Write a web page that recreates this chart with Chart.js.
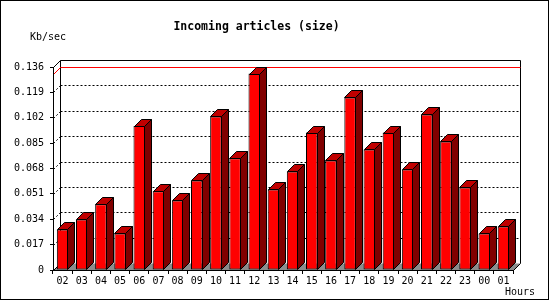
<!DOCTYPE html>
<html>
<head>
<meta charset="utf-8">
<script src="https://cdn.jsdelivr.net/npm/chart.js@4.4.1/dist/chart.umd.min.js"></script>
<style>
body { margin: 0; background: #fff; }
canvas { display: block; }
</style>
</head>
<body>
<canvas id="myChart" width="550" height="300"></canvas>
<script>
'use strict';

let hours = ['02', '03', '04', '05', '06', '07', '08', '09', '10', '11', '12', '13',
    '14', '15', '16', '17', '18', '19', '20', '21', '22', '23', '00', '01'];
let kbSec = [0.0272, 0.0339, 0.0440, 0.0245, 0.0964, 0.0527, 0.0466, 0.0600, 0.1029, 0.0748, 0.1316, 0.0540,
    0.0660, 0.0921, 0.0734, 0.1156, 0.0808, 0.0921, 0.0674, 0.1042, 0.0861, 0.0553, 0.0245, 0.0292];
let yTicks = [0, 0.017, 0.034, 0.051, 0.068, 0.085, 0.102, 0.119, 0.136];
let chartTitle = 'Incoming articles (size)';
let yUnit = 'Kb/sec';
let xUnit = 'Hours';

let mono = '"DejaVu Sans Mono", "Liberation Mono", monospace';
let depth = 7;

function line(ctx, x1, y1, x2, y2) {
    ctx.beginPath();
    ctx.moveTo(x1, y1);
    ctx.lineTo(x2, y2);
    ctx.stroke();
}

function poly(ctx, pts, fill) {
    ctx.beginPath();
    ctx.moveTo(pts[0][0], pts[0][1]);
    for (let i = 1; i < pts.length; i++) {
        ctx.lineTo(pts[i][0], pts[i][1]);
    }
    ctx.closePath();
    ctx.fillStyle = fill;
    ctx.fill();
    ctx.stroke();
}

let walls = {
    id: 'walls',
    beforeDraw(chart) {
        let ctx = chart.ctx;
        let a = chart.chartArea;
        let y = chart.scales.y;
        let l = a.left + 0.5, r = a.right + 0.5, t = a.top + 0.5, b = a.bottom + 0.5;
        ctx.save();
        ctx.fillStyle = '#fff';
        ctx.fillRect(0, 0, chart.width, chart.height);
        ctx.lineWidth = 1;
        ctx.strokeStyle = '#000';

        // floor
        ctx.beginPath();
        ctx.moveTo(l, b);
        ctx.lineTo(r, b);
        ctx.lineTo(r + depth, b - depth);
        ctx.lineTo(l + depth, b - depth);
        ctx.closePath();
        ctx.fillStyle = '#8c8c8c';
        ctx.fill();

        // dotted grid on back wall and left wall
        ctx.setLineDash([2, 2]);
        for (let i = 1; i < yTicks.length - 1; i++) {
            let yf = Math.round(y.getPixelForValue(yTicks[i])) + 0.5;
            line(ctx, l + depth, yf - depth, r + depth, yf - depth);
            line(ctx, l, yf, l + depth, yf - depth);
        }
        ctx.setLineDash([]);

        // back wall frame
        line(ctx, l + depth, t - depth, r + depth, t - depth);
        line(ctx, r + depth, t - depth, r + depth, b - depth);
        line(ctx, r + depth, b - depth, r, b);
        line(ctx, l + depth, t - depth, l + depth, b - depth);
        line(ctx, l, t, l + depth, t - depth);
        line(ctx, l, b, l + depth, b - depth);

        // max value line
        let top = Math.round(y.getPixelForValue(Math.max(...kbSec))) + 0.5;
        ctx.strokeStyle = '#ff0000';
        line(ctx, l, top, l + depth, top - depth);
        line(ctx, l + depth, top - depth, r + depth, top - depth);
        ctx.restore();
    },
    afterDatasetsDraw(chart) {
        let ctx = chart.ctx;
        let meta = chart.getDatasetMeta(0);
        ctx.save();
        ctx.lineWidth = 1;
        ctx.strokeStyle = '#000';
        meta.data.forEach(function (bar) {
            let p = bar.getProps(['x', 'y', 'base', 'width'], true);
            let L = Math.round(p.x - p.width / 2) + 0.5;
            let R = Math.round(p.x + p.width / 2) - 0.5;
            let T = Math.round(p.y) + 0.5;
            let B = Math.round(p.base) - 0.5;
            poly(ctx, [[R, T], [R + depth, T - depth], [R + depth, B - depth], [R, B]], '#800000');
            poly(ctx, [[L, T], [L + depth, T - depth], [R + depth, T - depth], [R, T]], '#c00000');
        });
        ctx.restore();
    },
    afterDraw(chart) {
        let ctx = chart.ctx;
        ctx.save();
        ctx.fillStyle = '#000';
        ctx.font = '10px ' + mono;
        ctx.textBaseline = 'middle';
        ctx.fillText(yUnit, 30, 37);
        ctx.fillText(xUnit, 505, 292);
        ctx.strokeStyle = '#000';
        ctx.lineWidth = 1;
        ctx.strokeRect(0.5, 0.5, 548, 299);
        ctx.restore();
    }
};

let ctx = document.getElementById('myChart').getContext('2d');
let myChart = new Chart(ctx, {
    type: 'bar',
    data: {
        labels: hours,
        datasets: [{
            label: yUnit,
            data: kbSec,
            backgroundColor: '#ff0000',
            borderColor: '#000',
            borderWidth: 1,
            borderSkipped: false,
            categoryPercentage: 1,
            barPercentage: 0.6
        }]
    },
    options: {
        responsive: false,
        devicePixelRatio: 1,
        animation: false,
        layout: {
            padding: { left: 0, right: 37, top: 0, bottom: 0 }
        },
        plugins: {
            legend: { display: false },
            tooltip: { enabled: false },
            title: {
                display: true,
                text: chartTitle,
                color: '#000',
                font: { family: mono, size: 11.5, weight: 'bold', lineHeight: 1.2 },
                padding: { top: 20, bottom: 33.2 }
            }
        },
        scales: {
            x: {
                grid: { drawOnChartArea: false, drawTicks: true, tickLength: 4, color: '#000', offset: true },
                border: { display: true, color: '#000' },
                ticks: { color: '#000', padding: 1, maxRotation: 0, autoSkip: false, font: { family: mono, size: 10 } },
                afterFit: function (s) { s.height = 30; }
            },
            y: {
                min: 0,
                max: 0.136,
                grid: { drawOnChartArea: false, drawTicks: true, tickLength: 3, color: '#000' },
                border: { display: true, color: '#000' },
                ticks: {
                    color: '#000',
                    padding: 6,
                    font: { family: mono, size: 10 },
                    callback: function (v) { return v === 0 ? '0' : v.toFixed(3); }
                },
                afterBuildTicks: function (s) { s.ticks = yTicks.map(v => ({ value: v })); },
                afterFit: function (s) { s.width = 53; }
            }
        }
    },
    plugins: [walls]
});
</script>
</body>
</html>
